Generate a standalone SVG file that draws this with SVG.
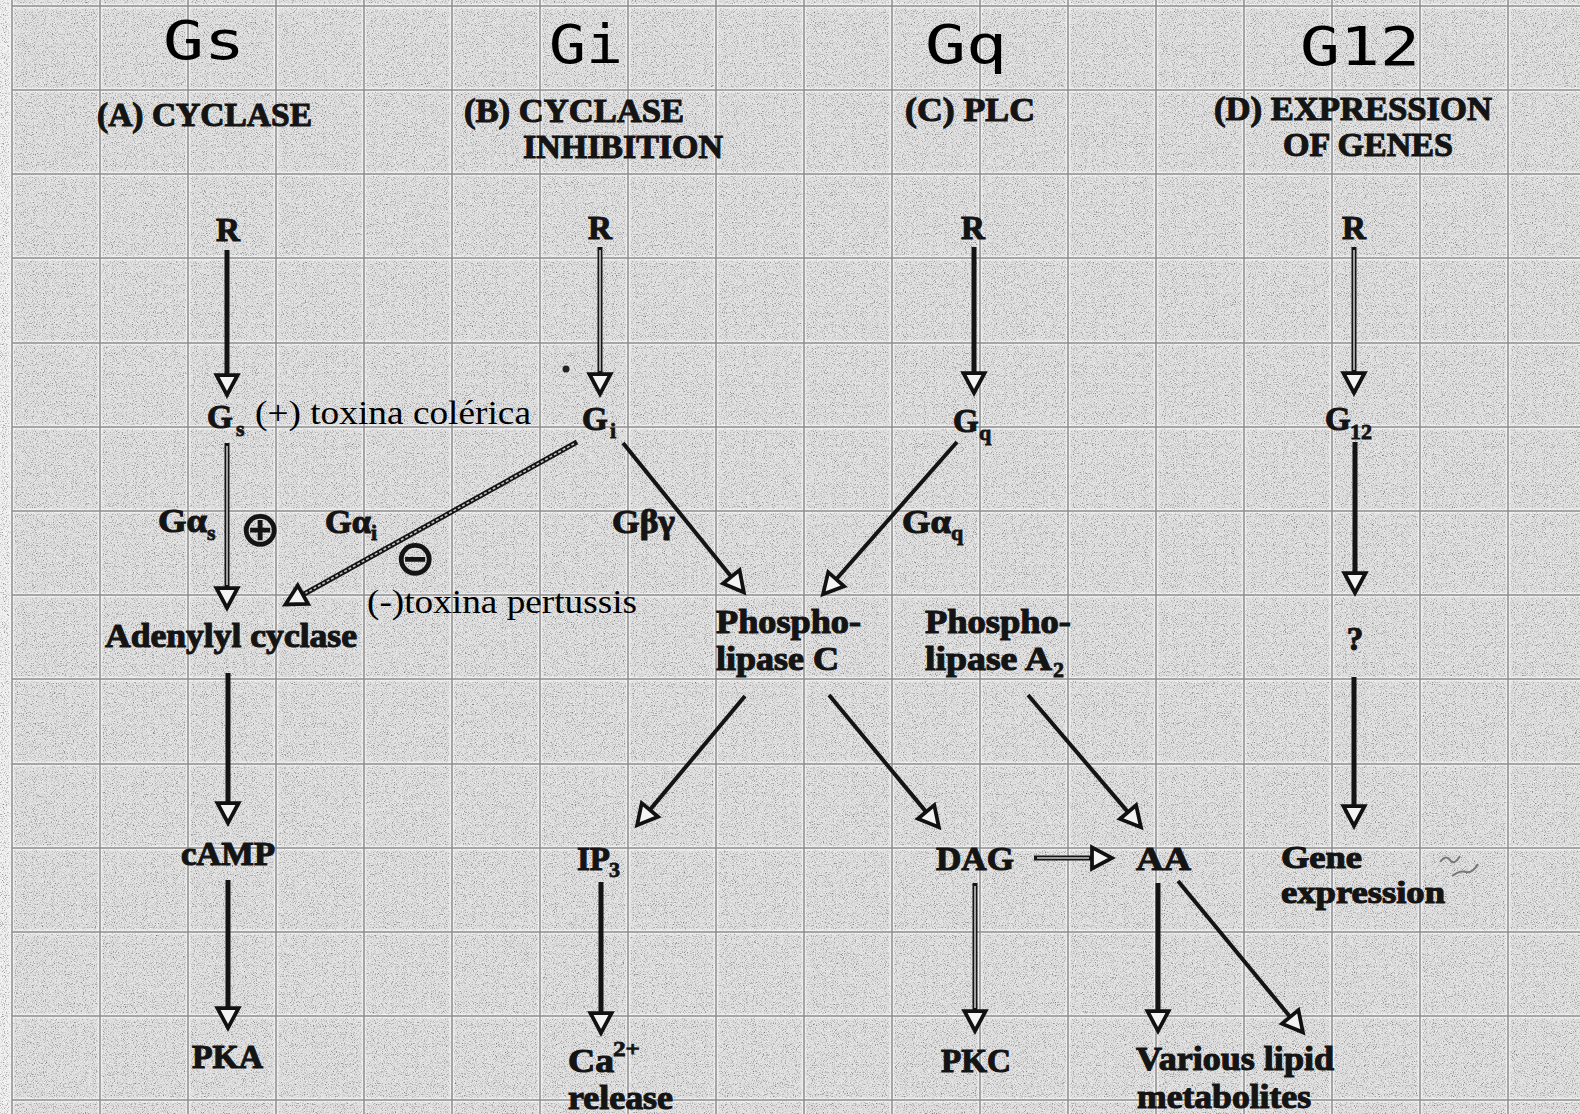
<svg xmlns="http://www.w3.org/2000/svg" width="1580" height="1114" viewBox="0 0 1580 1114">
<defs>
<filter id="grain" filterUnits="userSpaceOnUse" x="0" y="0" width="1580" height="1114">
<feTurbulence type="fractalNoise" baseFrequency="0.9" numOctaves="2" seed="7"/>
<feColorMatrix type="matrix" values="0 0 0 0 0  0 0 0 0 0  0 0 0 0 0  1.3 0 0 0 -0.66"/>
</filter>
<filter id="grainw" filterUnits="userSpaceOnUse" x="0" y="0" width="1580" height="1114">
<feTurbulence type="fractalNoise" baseFrequency="0.85" numOctaves="2" seed="21"/>
<feColorMatrix type="matrix" values="0 0 0 0 1  0 0 0 0 1  0 0 0 0 1  0 1.6 0 0 -0.74"/>
</filter>
<marker id="ah" markerUnits="userSpaceOnUse" markerWidth="30" markerHeight="30" viewBox="-3 -12 24 24" refX="0" refY="0" orient="auto" overflow="visible">
<path d="M0,-8.5 L16,0 L0,8.5 Z" fill="#f4f4f4" stroke="#111" stroke-width="3" stroke-linejoin="miter"/>
</marker>
<style>
.hd{font-family:"DejaVu Sans Mono","Liberation Mono",monospace;font-size:53px;fill:#000}
.tt{font-family:"Liberation Serif","Times New Roman",serif;font-weight:bold;font-size:34px;fill:#141414;stroke:#141414;stroke-width:1.1}
.lb{font-family:"Liberation Serif","Times New Roman",serif;font-weight:bold;font-size:33px;fill:#141414;stroke:#141414;stroke-width:1.1}
.sb{font-family:"Liberation Serif","Times New Roman",serif;font-weight:bold;font-size:22px;fill:#141414;stroke:#141414;stroke-width:0.8}
.rg{font-family:"Liberation Serif","Times New Roman",serif;font-size:34px;fill:#000}
.sym{font-family:"DejaVu Sans",sans-serif;font-weight:bold;font-size:50px;fill:#141414}
.grid line{stroke:#8e8e8e;stroke-width:1.5}
.halo line{stroke:#fafafa;stroke-width:5;stroke-opacity:0.6}
.solid{stroke:#141414;stroke-width:5;fill:none;marker-end:url(#ah)}
.thin{stroke:#141414;stroke-width:4;fill:none;marker-end:url(#ah)}
.hol{stroke:#141414;stroke-width:5;fill:none;marker-end:url(#ah)}
.inner{stroke:#c4c4c4;stroke-width:1.6;fill:none}
</style>
</defs>

<g id="background">
<rect x="0" y="0" width="1580" height="1114" fill="#dddddd"/>
<rect x="0" y="0" width="12" height="1114" fill="#efefef"/>
<rect x="0" y="0" width="1580" height="1114" filter="url(#grain)"/>
<rect x="0" y="0" width="1580" height="1114" filter="url(#grainw)"/>
</g>

<g id="grid-halo" class="halo">
<line x1="12" y1="0" x2="12" y2="1114"/><line x1="100" y1="0" x2="100" y2="1114"/><line x1="188" y1="0" x2="188" y2="1114"/><line x1="276" y1="0" x2="276" y2="1114"/><line x1="364" y1="0" x2="364" y2="1114"/><line x1="452" y1="0" x2="452" y2="1114"/><line x1="540" y1="0" x2="540" y2="1114"/><line x1="628" y1="0" x2="628" y2="1114"/><line x1="716" y1="0" x2="716" y2="1114"/><line x1="804" y1="0" x2="804" y2="1114"/><line x1="892" y1="0" x2="892" y2="1114"/><line x1="980" y1="0" x2="980" y2="1114"/><line x1="1068" y1="0" x2="1068" y2="1114"/><line x1="1156" y1="0" x2="1156" y2="1114"/><line x1="1244" y1="0" x2="1244" y2="1114"/><line x1="1332" y1="0" x2="1332" y2="1114"/><line x1="1420" y1="0" x2="1420" y2="1114"/><line x1="1508" y1="0" x2="1508" y2="1114"/>
<line x1="12" y1="6" x2="1580" y2="6"/><line x1="12" y1="90" x2="1580" y2="90"/><line x1="12" y1="174" x2="1580" y2="174"/><line x1="12" y1="258" x2="1580" y2="258"/><line x1="12" y1="343" x2="1580" y2="343"/><line x1="12" y1="427" x2="1580" y2="427"/><line x1="12" y1="511" x2="1580" y2="511"/><line x1="12" y1="595" x2="1580" y2="595"/><line x1="12" y1="679" x2="1580" y2="679"/><line x1="12" y1="764" x2="1580" y2="764"/><line x1="12" y1="848" x2="1580" y2="848"/><line x1="12" y1="932" x2="1580" y2="932"/><line x1="12" y1="1016" x2="1580" y2="1016"/><line x1="12" y1="1100" x2="1580" y2="1100"/>
</g>
<g id="grid" class="grid">
<line x1="12" y1="0" x2="12" y2="1114"/><line x1="100" y1="0" x2="100" y2="1114"/><line x1="188" y1="0" x2="188" y2="1114"/><line x1="276" y1="0" x2="276" y2="1114"/><line x1="364" y1="0" x2="364" y2="1114"/><line x1="452" y1="0" x2="452" y2="1114"/><line x1="540" y1="0" x2="540" y2="1114"/><line x1="628" y1="0" x2="628" y2="1114"/><line x1="716" y1="0" x2="716" y2="1114"/><line x1="804" y1="0" x2="804" y2="1114"/><line x1="892" y1="0" x2="892" y2="1114"/><line x1="980" y1="0" x2="980" y2="1114"/><line x1="1068" y1="0" x2="1068" y2="1114"/><line x1="1156" y1="0" x2="1156" y2="1114"/><line x1="1244" y1="0" x2="1244" y2="1114"/><line x1="1332" y1="0" x2="1332" y2="1114"/><line x1="1420" y1="0" x2="1420" y2="1114"/><line x1="1508" y1="0" x2="1508" y2="1114"/>
<line x1="12" y1="6" x2="1580" y2="6"/><line x1="12" y1="90" x2="1580" y2="90"/><line x1="12" y1="174" x2="1580" y2="174"/><line x1="12" y1="258" x2="1580" y2="258"/><line x1="12" y1="343" x2="1580" y2="343"/><line x1="12" y1="427" x2="1580" y2="427"/><line x1="12" y1="511" x2="1580" y2="511"/><line x1="12" y1="595" x2="1580" y2="595"/><line x1="12" y1="679" x2="1580" y2="679"/><line x1="12" y1="764" x2="1580" y2="764"/><line x1="12" y1="848" x2="1580" y2="848"/><line x1="12" y1="932" x2="1580" y2="932"/><line x1="12" y1="1016" x2="1580" y2="1016"/><line x1="12" y1="1100" x2="1580" y2="1100"/>
</g>

<g id="headers">
<text class="hd" x="163" y="59" textLength="82" lengthAdjust="spacingAndGlyphs">Gs</text>
<text class="hd" x="549" y="63" textLength="74" lengthAdjust="spacingAndGlyphs">Gi</text>
<text class="hd" x="925" y="63" textLength="82" lengthAdjust="spacingAndGlyphs">Gq</text>
<text class="hd" x="1300" y="65" textLength="120" lengthAdjust="spacingAndGlyphs">G12</text>
</g>

<g id="titles">
<text class="tt" x="97" y="126" textLength="215" lengthAdjust="spacingAndGlyphs">(A) CYCLASE</text>
<text class="tt" x="464" y="122" textLength="220" lengthAdjust="spacingAndGlyphs">(B) CYCLASE</text>
<text class="tt" x="523" y="158" textLength="200" lengthAdjust="spacingAndGlyphs">INHIBITION</text>
<text class="tt" x="905" y="121" textLength="130" lengthAdjust="spacingAndGlyphs">(C) PLC</text>
<text class="tt" x="1214" y="120" textLength="278" lengthAdjust="spacingAndGlyphs">(D) EXPRESSION</text>
<text class="tt" x="1283" y="156" textLength="170" lengthAdjust="spacingAndGlyphs">OF GENES</text>
</g>

<g id="connectors">
<line class="solid" x1="227" y1="250" x2="227" y2="375"/>
<line class="hol" x1="227" y1="443" x2="227" y2="588"/><line class="inner" x1="227" y1="446" x2="227" y2="585"/>
<line class="solid" x1="228" y1="673" x2="228" y2="803"/>
<line class="solid" x1="228" y1="880" x2="228" y2="1008"/>
<line class="hol" x1="600" y1="247" x2="600" y2="374"/><line class="inner" x1="600" y1="250" x2="600" y2="371"/>
<line class="hol" x1="577" y1="442" x2="302.9" y2="594.7"/><line class="inner" x1="574" y1="443.7" x2="305.5" y2="593.2" stroke-dasharray="3 2"/>
<line class="thin" x1="623" y1="443" x2="731.3" y2="576.8"/>
<line class="solid" x1="974" y1="247" x2="974" y2="373"/>
<line class="thin" x1="957" y1="442" x2="836.2" y2="579.2"/>
<line class="thin" x1="745" y1="696" x2="649.9" y2="809.9"/>
<line class="thin" x1="829" y1="695" x2="926.1" y2="811.9"/>
<line class="thin" x1="1028" y1="695" x2="1128" y2="812.1"/>
<line class="solid" x1="601" y1="882" x2="601" y2="1013"/>
<line class="hol" x1="1034" y1="858" x2="1092" y2="858"/><line class="inner" x1="1037" y1="858" x2="1089" y2="858"/>
<line class="hol" x1="975" y1="883" x2="975" y2="1011"/><line class="inner" x1="975" y1="886" x2="975" y2="1008"/>
<line class="solid" x1="1158" y1="883" x2="1158" y2="1011"/>
<line class="thin" x1="1178" y1="881" x2="1290.2" y2="1016.9"/>
<line class="hol" x1="1354" y1="247" x2="1354" y2="373"/><line class="inner" x1="1354" y1="250" x2="1354" y2="370"/>
<line class="solid" x1="1355" y1="442" x2="1355" y2="573"/>
<line class="solid" x1="1354" y1="677" x2="1354" y2="806"/>
</g>

<g id="node-R-a"><text class="lb" x="228" y="241" text-anchor="middle">R</text></g>
<g id="node-Gs">
<text class="lb" x="207" y="428">G</text><text class="sb" x="236" y="436">s</text>
<text class="rg" x="255" y="424" textLength="276" lengthAdjust="spacingAndGlyphs">(+) toxina colérica</text>
</g>
<g id="label-Gas">
<text class="lb" x="158" y="532" textLength="49" lengthAdjust="spacingAndGlyphs">Gα</text><text class="sb" x="207" y="540">s</text>
<text class="sym" x="260" y="546" text-anchor="middle">⊕</text>
</g>
<g id="label-Gai">
<text class="lb" x="325" y="533" textLength="46" lengthAdjust="spacingAndGlyphs">Gα</text><text class="sb" x="371" y="540">i</text>
<text class="sym" x="415" y="575" text-anchor="middle">⊖</text>
<text class="rg" x="367" y="613" textLength="270" lengthAdjust="spacingAndGlyphs">(-)toxina pertussis</text>
</g>
<g id="node-adenylyl"><text class="lb" x="105" y="647" textLength="252" lengthAdjust="spacingAndGlyphs">Adenylyl cyclase</text></g>
<g id="node-cAMP"><text class="lb" x="181" y="865" textLength="94" lengthAdjust="spacingAndGlyphs">cAMP</text></g>
<g id="node-PKA"><text class="lb" x="192" y="1068" textLength="71" lengthAdjust="spacingAndGlyphs">PKA</text></g>

<g id="node-R-b"><text class="lb" x="600" y="239" text-anchor="middle">R</text></g>
<g id="dot"><circle cx="566" cy="369" r="3.5" fill="#222"/></g>
<g id="node-Gi"><text class="lb" x="582" y="430">G</text><text class="sb" x="610" y="438">i</text></g>
<g id="label-Gbg"><text class="lb" x="612" y="533" textLength="63" lengthAdjust="spacingAndGlyphs">Gβγ</text></g>
<g id="node-PLC">
<text class="lb" x="716" y="633" textLength="145" lengthAdjust="spacingAndGlyphs">Phospho-</text>
<text class="lb" x="716" y="670" textLength="123" lengthAdjust="spacingAndGlyphs">lipase C</text>
</g>
<g id="node-IP3"><text class="lb" x="577" y="870" textLength="33" lengthAdjust="spacingAndGlyphs">IP</text><text class="sb" x="609" y="877">3</text></g>
<g id="node-Ca">
<text class="lb" x="568" y="1072" textLength="46" lengthAdjust="spacingAndGlyphs">Ca</text><text class="sb" x="613" y="1056" textLength="27" lengthAdjust="spacingAndGlyphs">2+</text>
<text class="lb" x="568" y="1109" textLength="105" lengthAdjust="spacingAndGlyphs">release</text>
</g>

<g id="node-R-c"><text class="lb" x="973" y="239" text-anchor="middle">R</text></g>
<g id="node-Gq"><text class="lb" x="953" y="432">G</text><text class="sb" x="979" y="440">q</text></g>
<g id="label-Gaq"><text class="lb" x="902" y="533" textLength="49" lengthAdjust="spacingAndGlyphs">Gα</text><text class="sb" x="951" y="540">q</text></g>
<g id="node-PLA2">
<text class="lb" x="925" y="633" textLength="146" lengthAdjust="spacingAndGlyphs">Phospho-</text>
<text class="lb" x="925" y="670" textLength="127" lengthAdjust="spacingAndGlyphs">lipase A</text><text class="sb" x="1053" y="677">2</text>
</g>
<g id="node-DAG"><text class="lb" x="936" y="870" textLength="78" lengthAdjust="spacingAndGlyphs">DAG</text></g>
<g id="node-AA"><text class="lb" x="1136" y="870" textLength="55" lengthAdjust="spacingAndGlyphs">AA</text></g>
<g id="node-PKC"><text class="lb" x="941" y="1072" textLength="70" lengthAdjust="spacingAndGlyphs">PKC</text></g>
<g id="node-lipid">
<text class="lb" x="1136" y="1070" textLength="198" lengthAdjust="spacingAndGlyphs">Various lipid</text>
<text class="lb" x="1137" y="1108" textLength="174" lengthAdjust="spacingAndGlyphs">metabolites</text>
</g>

<g id="node-R-d"><text class="lb" x="1354" y="239" text-anchor="middle">R</text></g>
<g id="node-G12"><text class="lb" x="1325" y="430">G</text><text class="sb" x="1350" y="439">12</text></g>
<g id="node-unknown"><text class="lb" x="1355" y="650" text-anchor="middle">?</text></g>
<g id="node-gene">
<text class="lb" x="1281" y="868" textLength="81" lengthAdjust="spacingAndGlyphs" style="font-size:31px">Gene</text>
<text class="lb" x="1281" y="903" textLength="164" lengthAdjust="spacingAndGlyphs" style="font-size:31px">expression</text>
</g>
<g id="smudge"><path d="M1440,862 q6,-8 10,-2 q4,6 10,-4 M1452,876 q8,-6 14,-4 q6,2 12,-8" stroke="#777" stroke-width="2" fill="none"/></g>
</svg>
